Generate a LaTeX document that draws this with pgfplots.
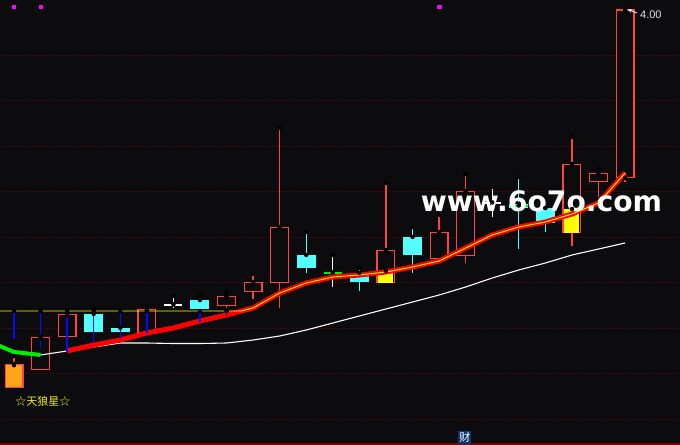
\documentclass[border=0pt]{standalone}
\usepackage{pgfplots}
\pgfplotsset{compat=1.18}
\usepackage{pgfplotstable}
\usepackage{fontspec}
\setmainfont{Liberation Sans}
\newfontfamily\cjk{Noto Sans CJK SC}
\newfontfamily\wmfont{DejaVu Sans}
\usetikzlibrary{arrows.meta}

\definecolor{bg}{RGB}{12,12,15}
\definecolor{candred}{RGB}{255,66,66}
\definecolor{candcyan}{RGB}{84,255,255}
\definecolor{candorange}{RGB}{255,165,25}
\definecolor{gridred}{RGB}{110,10,10}
\definecolor{lineblue}{RGB}{10,10,255}
\definecolor{linegreen}{RGB}{0,240,0}
\definecolor{lineyellow}{RGB}{255,255,0}
\definecolor{txtyellow}{RGB}{235,235,20}
\definecolor{mag}{RGB}{255,0,255}
\definecolor{boxblue}{RGB}{14,55,110}
\definecolor{edgered}{RGB}{130,0,0}

% vertical segment from lo up to hi, drawn as an error bar
\pgfplotsset{
  vseg/.style 2 args={only marks, mark=none, forget plot,
    error bars/.cd, y dir=minus, y explicit, error mark=none,
    error bar style={draw=#1, line width=#2, solid}},
}

% candle bodies (x, top, bottom)
\pgfplotstableread{
x hi lo
1 3.2802 3.2077
2 3.3308 3.2802
5 3.3418 3.2890
8 3.3703 3.3484
9 3.4011 3.3791
10 3.5220 3.3989
14 3.4714 3.3989
16 3.5110 3.4516
17 3.6011 3.4582
21 3.6604 3.5088
22 3.6407 3.6209
23 4.0000 3.6297
}\upbody

\pgfplotstableread{
x hi lo
0 3.2209 3.1681
}\orangebody

\pgfplotstableread{
x hi lo
3 3.3308 3.2912
4 3.3000 3.2912
7 3.3615 3.3418
11 3.4604 3.4319
13 3.4209 3.4011
15 3.5000 3.4604
19 3.5725 3.5637
20 3.5637 3.5308
}\downbody

% wicks (x, high, low)
\pgfplotstableread{
x hi lo
0 3.2385 3.2209
5 3.3484 3.3418
8 3.3791 3.3440
9 3.4187 3.3637
10 3.7396 3.3440
14 3.6187 3.3989
16 3.5484 3.4516
17 3.6385 3.4429
21 3.7198 3.4802
22 3.6495 3.5879
23 3.6297 3.6209
}\upwick

\pgfplotstableread{
x hi lo
3 3.3418 3.3308
7 3.3703 3.3615
11 3.5110 3.4209
13 3.4319 3.3813
15 3.5220 3.4209
19 3.6319 3.4736
20 3.5637 3.5110
}\downwick

\pgfplotstableread{
x hi lo
6 3.3703 3.3440
12 3.4604 3.3901
18 3.6099 3.5440
}\dojiwick

\pgfplotstableread{
x v
6 3.3505
18 3.5747
}\dojiwhite

\pgfplotstableread{
x v
12 3.4209
19 3.5681
}\dojigreen

\pgfplotstableread{
x hi lo
14 3.4253 3.3989
21 3.5615 3.5088
}\yellowfill

\pgfplotstableread{
x hi lo
0 3.3374 3.2758
1 3.3374 3.2538
2 3.3374 3.2473
3 3.3374 3.2670
4 3.3374 3.2758
5 3.3374 3.2890
7 3.3374 3.3132
8 3.3374 3.3264
}\bluebars

% lines
\pgfplotstableread{
x y
-1 3.2714
0 3.2473
1 3.2407
}\magreen

\pgfplotstableread{
x y
2 3.2495
3 3.2626
4 3.2736
5 3.2890
6 3.3000
7 3.3154
8 3.3286
9 3.3440
10 3.3769
11 3.3989
12 3.4121
13 3.4165
14 3.4231
15 3.4341
16 3.4473
17 3.4758
18 3.5044
19 3.5220
20 3.5330
21 3.5505
22 3.5747
23 3.6407
}\mared

\pgfplotstableread{
x y
-1 3.3374
8.55 3.3374
9 3.3440
10 3.3769
11 3.3989
12 3.4121
13 3.4165
14 3.4231
15 3.4341
16 3.4473
17 3.4758
18 3.5044
19 3.5220
20 3.5330
21 3.5505
22 3.5747
23 3.6407
}\mayellow

\pgfplotstableread{
x y
1 3.2407
2 3.2495
3 3.2582
4 3.2670
5 3.2670
6 3.2659
7 3.2659
8 3.2670
9 3.2736
10 3.2824
11 3.2956
12 3.3110
13 3.3264
14 3.3418
15 3.3571
16 3.3725
17 3.3901
18 3.4099
19 3.4275
20 3.4429
21 3.4604
22 3.4736
23 3.4868
}\mawhite

\begin{document}
\begin{tikzpicture}
\begin{axis}[
  width=680bp, height=445bp, scale only axis,
  xmin=-0.5269, xmax=25.066, ymin=3.04286, ymax=4.02088,
  axis lines=none, xtick=\empty, ytick=\empty,
  axis background/.style={fill=bg},
  unbounded coords=jump,
]
% dotted price grid
\pgfplotsinvokeforeach{3.1,3.2,3.3,3.4,3.5,3.6,3.7,3.8,3.9}{
  \addplot[gridred, line width=0.7bp, dash pattern=on 1bp off 2bp, forget plot] coordinates {(-1,#1) (26,#1)};
}
\addplot[edgered, line width=2bp, forget plot] coordinates {(-1,3.0451) (26,3.0451)};

% wicks
\addplot[vseg={candred}{1.3bp}] table[x=x, y=hi, y error minus expr=\thisrow{hi}-\thisrow{lo}] {\upwick};
\addplot[vseg={candcyan}{1.3bp}] table[x=x, y=hi, y error minus expr=\thisrow{hi}-\thisrow{lo}] {\downwick};
\addplot[vseg={white}{1.3bp}] table[x=x, y=hi, y error minus expr=\thisrow{hi}-\thisrow{lo}] {\dojiwick};

% hollow up bodies
\addplot[vseg={candred}{19bp}] table[x=x, y=hi, y error minus expr=\thisrow{hi}-\thisrow{lo}] {\upbody};
\addplot[vseg={bg}{16.6bp}] table[x=x, y expr=\thisrow{hi}-0.0026, y error minus expr=\thisrow{hi}-\thisrow{lo}-0.0052] {\upbody};
\addplot[vseg={candred}{19bp}] table[x=x, y=hi, y error minus expr=\thisrow{hi}-\thisrow{lo}] {\orangebody};
\addplot[vseg={candorange}{16.6bp}] table[x=x, y expr=\thisrow{hi}-0.0026, y error minus expr=\thisrow{hi}-\thisrow{lo}-0.0052] {\orangebody};
% filled down bodies
\addplot[vseg={candcyan}{19bp}] table[x=x, y=hi, y error minus expr=\thisrow{hi}-\thisrow{lo}] {\downbody};
\addplot[vseg={lineyellow}{15bp}] table[x=x, y=hi, y error minus expr=\thisrow{hi}-\thisrow{lo}] {\yellowfill};
% doji bars
\addplot[vseg={white}{18bp}] table[x=x, y expr=\thisrow{v}+0.0013, y error minus expr=0.0026] {\dojiwhite};
\addplot[vseg={linegreen}{18bp}] table[x=x, y expr=\thisrow{v}+0.0013, y error minus expr=0.0026] {\dojigreen};

% moving averages
\addplot[white, line width=1.1bp, forget plot] table[x=x, y=y] {\mawhite};
\addplot[linegreen, line width=4bp, line join=round, forget plot] table[x=x, y=y] {\magreen};
\addplot[red, line width=5bp, line join=round, forget plot] table[x=x, y=y] {\mared};
\addplot[lineyellow, line width=0.9bp, forget plot] table[x=x, y=y] {\mayellow};

% blue signal lines
\addplot[vseg={lineblue}{1.4bp}] table[x=x, y=hi, y error minus expr=\thisrow{hi}-\thisrow{lo}] {\bluebars};

% top markers
\addplot[only marks, mark=square*, mark size=1.6bp, mag, forget plot] coordinates {(0,4.0055) (1,4.0055) (16,4.0055)};

% annotations
\addplot[white, line width=0.8bp, -{Stealth[length=4bp,width=3.5bp]}, forget plot] coordinates {(23.45,3.9923) (23.10,4.0)};
\node[anchor=west, inner sep=0pt, text={rgb,255:red,225;green,228;blue,235}, font=\fontsize{11bp}{13bp}\selectfont] at (axis cs:23.56,3.9879) {4.00};
\node[anchor=west, inner sep=0pt, text=txtyellow, font=\fontsize{11bp}{13bp}\cjk] at (axis cs:0.04,3.1396) {☆天狼星☆};
\node[fill=boxblue, text=white, inner sep=1bp, font=\fontsize{11bp}{13bp}\cjk] at (axis cs:16.97,3.0593) {财};
\node[anchor=base, inner sep=0pt, text=white, font=\fontsize{28.2bp}{30bp}\wmfont\bfseries] at (axis cs:19.85,3.5571) {www.6o7o.com};
\end{axis}
\end{tikzpicture}
\end{document}
